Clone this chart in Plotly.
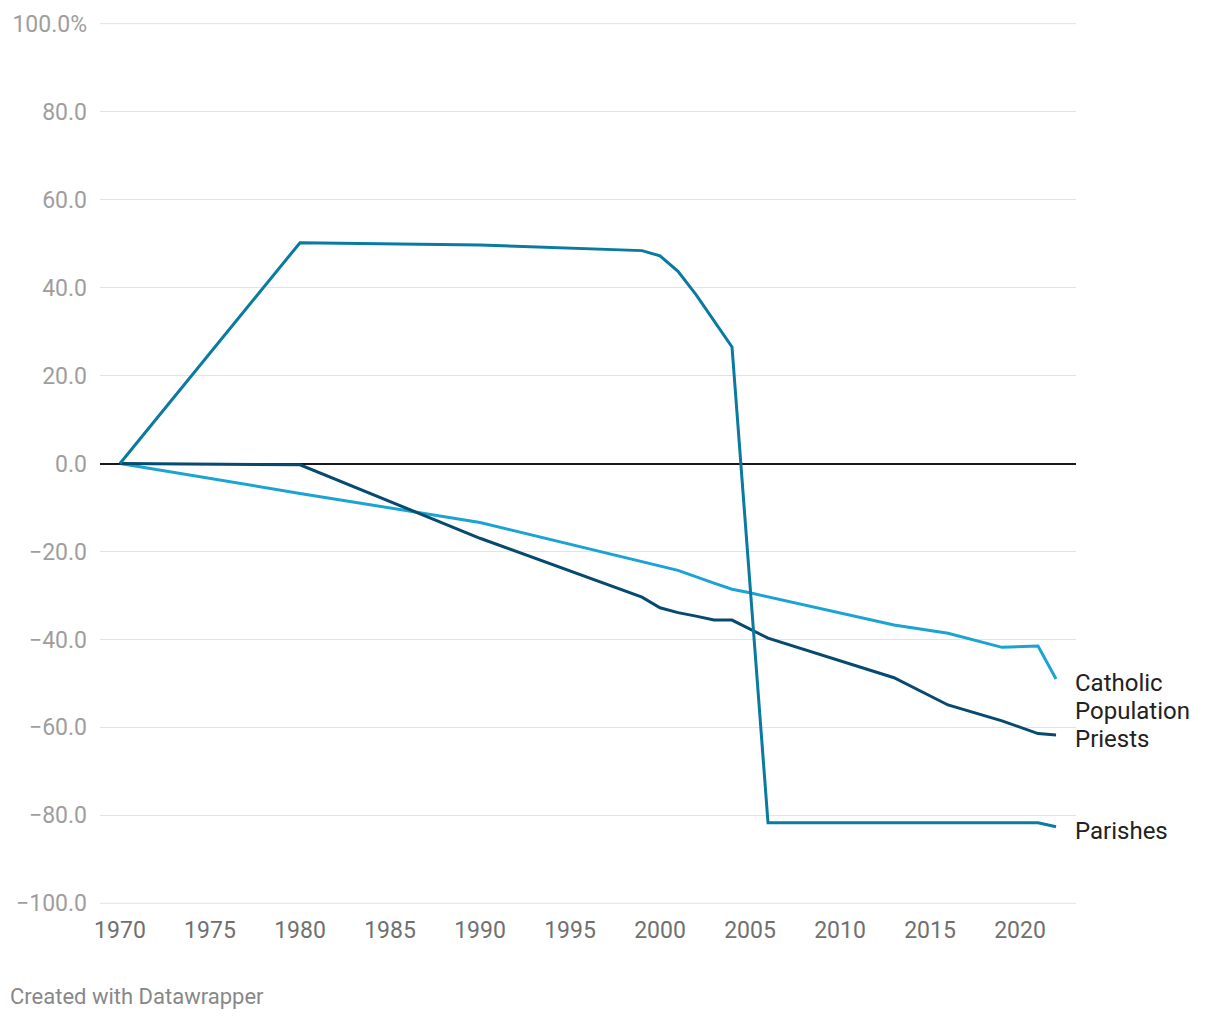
import plotly.graph_objects as go

years_parishes = [1970, 1980, 1990, 1999, 2000, 2001, 2002, 2004, 2006, 2021, 2022]
parishes = [0, 50.2, 49.7, 48.4, 47.2, 43.7, 38.4, 26.5, -81.7, -81.7, -82.6]

years_catholic = [1970, 1980, 1990, 1999, 2000, 2001, 2003, 2004, 2005, 2013, 2016, 2019, 2021, 2022]
catholic = [0, -6.8, -13.4, -22.2, -23.2, -24.3, -27.2, -28.6, -29.4, -36.7, -38.6, -41.8, -41.5, -49.0]

years_priests = [1970, 1980, 1990, 1999, 2000, 2001, 2002, 2003, 2004, 2006, 2013, 2016, 2019, 2021, 2022]
priests = [0, -0.3, -17.0, -30.4, -32.8, -33.9, -34.7, -35.6, -35.6, -39.7, -48.7, -54.9, -58.5, -61.4, -61.7]

y_ticks = [100, 80, 60, 40, 20, 0, -20, -40, -60, -80, -100]
y_ticktext = ["100.0%", "80.0", "60.0", "40.0", "20.0", "0.0", "\u221220.0", "\u221240.0", "\u221260.0", "\u221280.0", "\u2212100.0"]
x_ticks = [1970, 1975, 1980, 1985, 1990, 1995, 2000, 2005, 2010, 2015, 2020]
edge_grid = [100, -100]

labels = [("Catholic", -49.9), ("Population", -56.3), ("Priests", -62.7), ("Parishes", -83.5)]

fig = go.Figure()
fig.add_trace(go.Scatter(x=years_catholic, y=catholic, mode="lines", name="Catholic Population",
                         line=dict(color="#1ba3d3", width=3)))
fig.add_trace(go.Scatter(x=years_priests, y=priests, mode="lines", name="Priests",
                         line=dict(color="#064a6f", width=3)))
fig.add_trace(go.Scatter(x=years_parishes, y=parishes, mode="lines", name="Parishes",
                         line=dict(color="#0a7aa1", width=3)))

for gy in edge_grid:
    fig.add_shape(type="line", xref="paper", x0=0, x1=1, yref="y", y0=gy, y1=gy,
                  line=dict(color="#e3e3e3", width=1), layer="below")

for text, yv in labels:
    fig.add_annotation(x=1, xref="paper", y=yv, yref="y", text=text, showarrow=False,
                       xanchor="left", yanchor="middle", align="left", xshift=-3,
                       font=dict(family="Roboto", size=24, color="#222222"))

fig.add_annotation(x=-92/976, xref="paper", y=-(997-904)/881, yref="paper",
                   text="Created with Datawrapper",
                   showarrow=False, xanchor="left", yanchor="middle",
                   font=dict(family="Roboto", size=22, color="#888888"))

fig.update_layout(
    width=1220, height=1020,
    margin=dict(l=92, r=152, t=15, b=124),
    paper_bgcolor="white", plot_bgcolor="white",
    showlegend=False,
    font=dict(family="Roboto"),
    xaxis=dict(range=[1968.89, 2023.11], tickvals=x_ticks, showgrid=False, zeroline=False,
               showline=False, ticks="", tickfont=dict(size=23, color="#707070"),
               ticklabelstandoff=10, automargin=False),
    yaxis=dict(range=[-100.15, 100.15], tickvals=y_ticks, ticktext=y_ticktext, showgrid=True,
               gridcolor="#e3e3e3", gridwidth=1, zeroline=True, zerolinecolor="#1a1a1a",
               zerolinewidth=1.5, showline=False, ticks="", automargin=False,
               tickfont=dict(size=23, color="#9e9e9e"), ticklabelstandoff=12),
)

fig.write_html("out.html")
